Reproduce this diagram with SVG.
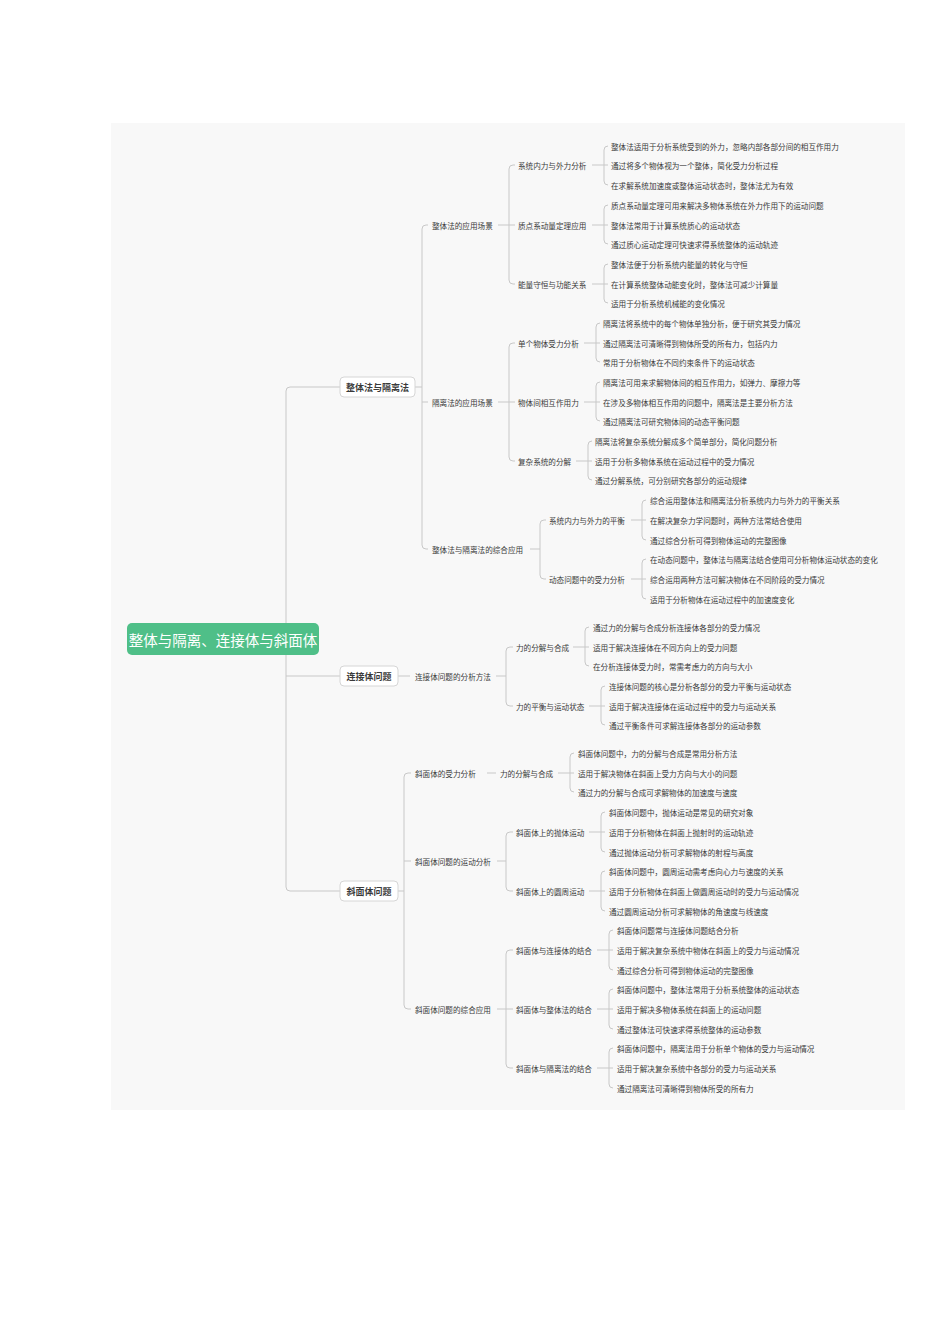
<svg xmlns="http://www.w3.org/2000/svg" width="950" height="1344" viewBox="0 0 950 1344">
<style>
text{font-family:"Noto Sans CJK SC","Noto Sans",sans-serif;dominant-baseline:central;fill:#3a3a3a}
.t{font-size:7.6px}
.b{font-size:9px;font-weight:bold}
.c path{fill:none;stroke:#c8c8c8;stroke-width:1}
.box{fill:#fff;stroke:#d6d6d6;stroke-width:1}
</style>
<rect x="111" y="123" width="794" height="987" fill="#f8f8f8"/>
<g class="c" id="connectors">
<path d="M340,387 H290 Q286,387 286,391 V887 Q286,891 290,891 H340 M286,676 H340"/>
<path d="M415,387 H422 M428,225 H426 Q422,225 422,229 V545 Q422,549 426,549 H428 M422,402 H428"/>
<path d="M398,676 H410"/>
<path d="M398,891 H404 M411,773 H408 Q404,773 404,777 V1005 Q404,1009 408,1009 H411 M404,861 H411"/>
<path d="M487,773 H496"/>
<path d="M498,225 H515 M515,165 H513 Q509,165 509,169 V280 Q509,284 513,284 H515"/>
<path d="M498,402 H515 M515,343 H513 Q509,343 509,347 V457 Q509,461 513,461 H515"/>
<path d="M530,549 H540 M546,520 H544 Q540,520 540,524 V575 Q540,579 544,579 H546"/>
<path d="M496,676 H506 M513,647 H510 Q506,647 506,651 V702 Q506,706 510,706 H513"/>
<path d="M497,861 H506 M513,832 H510 Q506,832 506,836 V887 Q506,891 510,891 H513"/>
<path d="M497,1009 H513 M513,950 H510 Q506,950 506,954 V1064 Q506,1068 510,1068 H513"/>
<path d="M592,165 H608 M608,146 H608 Q604,146 604,150 V181 Q604,185 608,185"/>
<path d="M592,225 H608 M608,205 Q604,205 604,209 V240 Q604,244 608,244"/>
<path d="M592,284 H608 M608,264 Q604,264 604,268 V299 Q604,303 608,303"/>
<path d="M584,343 H600 M600,323 Q596,323 596,327 V358 Q596,362 600,362"/>
<path d="M584,402 H600 M600,382 Q596,382 596,386 V417 Q596,421 600,421"/>
<path d="M576,461 H592 M592,441 Q588,441 588,445 V476 Q588,480 592,480"/>
<path d="M631,520 H646 M646,500 Q642,500 642,504 V536 Q642,540 646,540"/>
<path d="M631,579 H646 M646,559 Q642,559 642,563 V595 Q642,599 646,599"/>
<path d="M573,647 H589 M589,627 Q585,627 585,631 V662 Q585,666 589,666"/>
<path d="M589,706 H605 M605,686 Q601,686 601,690 V721 Q601,725 605,725"/>
<path d="M558,773 H574 M574,753 Q570,753 570,757 V788 Q570,792 574,792"/>
<path d="M589,832 H605 M605,812 Q601,812 601,816 V848 Q601,852 605,852"/>
<path d="M589,891 H605 M605,871 Q601,871 601,875 V907 Q601,911 605,911"/>
<path d="M597,950 H613 M613,930 Q609,930 609,934 V966 Q609,970 613,970"/>
<path d="M597,1009 H613 M613,989 Q609,989 609,993 V1025 Q609,1029 613,1029"/>
<path d="M597,1068 H613 M613,1048 Q609,1048 609,1052 V1084 Q609,1088 613,1088"/>
</g>
<g id="root"><rect x="127" y="623" width="192" height="32" rx="5" fill="#4fbf88"/><text x="223" y="639" text-anchor="middle" style="font-size:14.5px;fill:#fff">整体与隔离、连接体与斜面体</text></g>
<g id="n1"><rect class="box" x="340" y="377" width="75" height="20" rx="4"/><text class="b" x="377.5" y="387" text-anchor="middle">整体法与隔离法</text></g>
<g id="n2"><rect class="box" x="340" y="666" width="58" height="20" rx="4"/><text class="b" x="369" y="676" text-anchor="middle">连接体问题</text></g>
<g id="n3"><rect class="box" x="340" y="881" width="58" height="20" rx="4"/><text class="b" x="369" y="891" text-anchor="middle">斜面体问题</text></g>
<g id="mid" class="t">
<text class="t" x="432" y="225">整体法的应用场景</text>
<text class="t" x="432" y="402">隔离法的应用场景</text>
<text class="t" x="432" y="549">整体法与隔离法的综合应用</text>
<text class="t" x="518" y="165">系统内力与外力分析</text>
<text class="t" x="518" y="225">质点系动量定理应用</text>
<text class="t" x="518" y="284">能量守恒与功能关系</text>
<text class="t" x="518" y="343">单个物体受力分析</text>
<text class="t" x="518" y="402">物体间相互作用力</text>
<text class="t" x="518" y="461">复杂系统的分解</text>
<text class="t" x="549" y="520">系统内力与外力的平衡</text>
<text class="t" x="549" y="579">动态问题中的受力分析</text>
<text class="t" x="415" y="676">连接体问题的分析方法</text>
<text class="t" x="516" y="647">力的分解与合成</text>
<text class="t" x="516" y="706">力的平衡与运动状态</text>
<text class="t" x="415" y="773">斜面体的受力分析</text>
<text class="t" x="415" y="861">斜面体问题的运动分析</text>
<text class="t" x="415" y="1009">斜面体问题的综合应用</text>
<text class="t" x="500" y="773">力的分解与合成</text>
<text class="t" x="516" y="832">斜面体上的抛体运动</text>
<text class="t" x="516" y="891">斜面体上的圆周运动</text>
<text class="t" x="516" y="950">斜面体与连接体的结合</text>
<text class="t" x="516" y="1009">斜面体与整体法的结合</text>
<text class="t" x="516" y="1068">斜面体与隔离法的结合</text>
</g>
<g id="leaves">
<text class="t" x="611" y="146">整体法适用于分析系统受到的外力，忽略内部各部分间的相互作用力</text>
<text class="t" x="611" y="165">通过将多个物体视为一个整体，简化受力分析过程</text>
<text class="t" x="611" y="185">在求解系统加速度或整体运动状态时，整体法尤为有效</text>
<text class="t" x="611" y="205">质点系动量定理可用来解决多物体系统在外力作用下的运动问题</text>
<text class="t" x="611" y="225">整体法常用于计算系统质心的运动状态</text>
<text class="t" x="611" y="244">通过质心运动定理可快速求得系统整体的运动轨迹</text>
<text class="t" x="611" y="264">整体法便于分析系统内能量的转化与守恒</text>
<text class="t" x="611" y="284">在计算系统整体动能变化时，整体法可减少计算量</text>
<text class="t" x="611" y="303">适用于分析系统机械能的变化情况</text>
<text class="t" x="603" y="323">隔离法将系统中的每个物体单独分析，便于研究其受力情况</text>
<text class="t" x="603" y="343">通过隔离法可清晰得到物体所受的所有力，包括内力</text>
<text class="t" x="603" y="362">常用于分析物体在不同约束条件下的运动状态</text>
<text class="t" x="603" y="382">隔离法可用来求解物体间的相互作用力，如弹力、摩擦力等</text>
<text class="t" x="603" y="402">在涉及多物体相互作用的问题中，隔离法是主要分析方法</text>
<text class="t" x="603" y="421">通过隔离法可研究物体间的动态平衡问题</text>
<text class="t" x="595" y="441">隔离法将复杂系统分解成多个简单部分，简化问题分析</text>
<text class="t" x="595" y="461">适用于分析多物体系统在运动过程中的受力情况</text>
<text class="t" x="595" y="480">通过分解系统，可分别研究各部分的运动规律</text>
<text class="t" x="650" y="500">综合运用整体法和隔离法分析系统内力与外力的平衡关系</text>
<text class="t" x="650" y="520">在解决复杂力学问题时，两种方法常结合使用</text>
<text class="t" x="650" y="540">通过综合分析可得到物体运动的完整图像</text>
<text class="t" x="650" y="559">在动态问题中，整体法与隔离法结合使用可分析物体运动状态的变化</text>
<text class="t" x="650" y="579">综合运用两种方法可解决物体在不同阶段的受力情况</text>
<text class="t" x="650" y="599">适用于分析物体在运动过程中的加速度变化</text>
<text class="t" x="593" y="627">通过力的分解与合成分析连接体各部分的受力情况</text>
<text class="t" x="593" y="647">适用于解决连接体在不同方向上的受力问题</text>
<text class="t" x="593" y="666">在分析连接体受力时，常需考虑力的方向与大小</text>
<text class="t" x="609" y="686">连接体问题的核心是分析各部分的受力平衡与运动状态</text>
<text class="t" x="609" y="706">适用于解决连接体在运动过程中的受力与运动关系</text>
<text class="t" x="609" y="725">通过平衡条件可求解连接体各部分的运动参数</text>
<text class="t" x="578" y="753">斜面体问题中，力的分解与合成是常用分析方法</text>
<text class="t" x="578" y="773">适用于解决物体在斜面上受力方向与大小的问题</text>
<text class="t" x="578" y="792">通过力的分解与合成可求解物体的加速度与速度</text>
<text class="t" x="609" y="812">斜面体问题中，抛体运动是常见的研究对象</text>
<text class="t" x="609" y="832">适用于分析物体在斜面上抛射时的运动轨迹</text>
<text class="t" x="609" y="852">通过抛体运动分析可求解物体的射程与高度</text>
<text class="t" x="609" y="871">斜面体问题中，圆周运动需考虑向心力与速度的关系</text>
<text class="t" x="609" y="891">适用于分析物体在斜面上做圆周运动时的受力与运动情况</text>
<text class="t" x="609" y="911">通过圆周运动分析可求解物体的角速度与线速度</text>
<text class="t" x="617" y="930">斜面体问题常与连接体问题结合分析</text>
<text class="t" x="617" y="950">适用于解决复杂系统中物体在斜面上的受力与运动情况</text>
<text class="t" x="617" y="970">通过综合分析可得到物体运动的完整图像</text>
<text class="t" x="617" y="989">斜面体问题中，整体法常用于分析系统整体的运动状态</text>
<text class="t" x="617" y="1009">适用于解决多物体系统在斜面上的运动问题</text>
<text class="t" x="617" y="1029">通过整体法可快速求得系统整体的运动参数</text>
<text class="t" x="617" y="1048">斜面体问题中，隔离法用于分析单个物体的受力与运动情况</text>
<text class="t" x="617" y="1068">适用于解决复杂系统中各部分的受力与运动关系</text>
<text class="t" x="617" y="1088">通过隔离法可清晰得到物体所受的所有力</text>
</g>
</svg>
